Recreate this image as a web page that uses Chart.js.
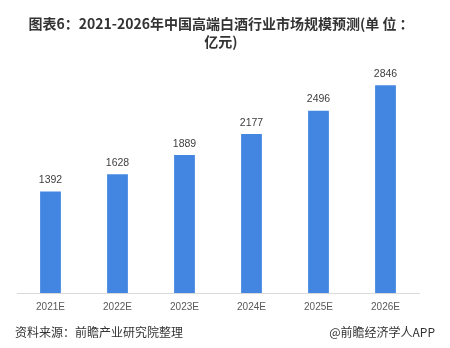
<!DOCTYPE html>
<html>
<head>
<meta charset="utf-8">
<script src="https://cdn.jsdelivr.net/npm/chart.js@4/dist/chart.umd.min.js"></script>
<style>
html,body{margin:0;padding:0;background:#fff;}
#wrap{position:relative;width:450px;height:348px;}
</style>
</head>
<body>
<div id="wrap"><canvas id="c" width="450" height="348"></canvas></div>
<script>
const categories = ['2021E','2022E','2023E','2024E','2025E','2026E'];
const marketSize = [1392,1628,1889,2177,2496,2846];
const titleLines = ['图表6：2021-2026年中国高端白酒行业市场规模预测(单 位 ：','亿元)'];
const sourceText = '资料来源：前瞻产业研究院整理';
const brandText = '@前瞻经济学人APP';

const textPlugin = {
  id: 'texts',
  afterDraw(chart) {
    const ctx = chart.ctx;
    ctx.save();
    ctx.fillStyle = '#333333';
    ctx.font = 'bold 14px "Noto Sans CJK SC", "Liberation Sans", sans-serif';
    ctx.textAlign = 'center';
    ctx.textBaseline = 'middle';
    ctx.fillText(titleLines[0], 221, 24);
    ctx.fillText(titleLines[1], 221, 42);
    ctx.font = '12px "Noto Sans CJK SC", sans-serif';
    ctx.fillStyle = '#333333';
    ctx.textAlign = 'left';
    ctx.fillText(sourceText, 15, 332);
    ctx.textAlign = 'right';
    ctx.fillText(brandText, 435, 332);
    const meta = chart.getDatasetMeta(0);
    ctx.font = '10.5px "Liberation Sans", sans-serif';
    ctx.fillStyle = '#404040';
    ctx.textAlign = 'center';
    ctx.textBaseline = 'bottom';
    meta.data.forEach((bar, i) => {
      ctx.fillText(String(chart.data.datasets[0].data[i]), bar.x, bar.y - 6);
    });
    ctx.restore();
  }
};

new Chart(document.getElementById('c'), {
  type: 'bar',
  data: {
    labels: categories,
    datasets: [{
      data: marketSize,
      backgroundColor: '#4286e2',
      borderWidth: 0,
      categoryPercentage: 1,
      barPercentage: 0.31
    }]
  },
  options: {
    responsive: false,
    animation: false,
    layout: { padding: { top: 74, left: 17, right: 31, bottom: 35 } },
    plugins: { legend: { display: false }, title: { display: false }, tooltip: { enabled: false } },
    scales: {
      x: {
        grid: { display: false },
        border: { display: true, color: '#d9d9d9', width: 1 },
        ticks: { color: '#595959', font: { size: 10, family: '"Liberation Sans", sans-serif' }, padding: 0 }
      },
      y: {
        display: false,
        min: 0,
        max: 3000
      }
    }
  },
  plugins: [textPlugin]
});
</script>
</body>
</html>
